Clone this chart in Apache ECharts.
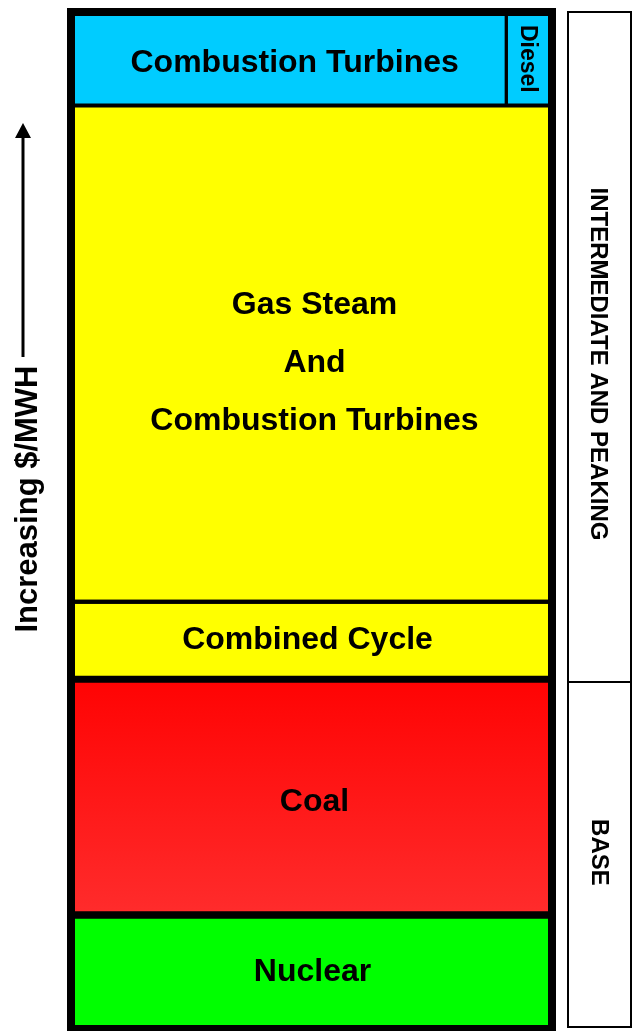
<!DOCTYPE html>
<html>
<head>
<meta charset="utf-8">
<script src="https://cdn.jsdelivr.net/npm/echarts@6/dist/echarts.min.js"></script>
<style>
  html, body { margin: 0; padding: 0; background: #fff; }
  #chart { width: 634px; height: 1031px; }
</style>
</head>
<body>
<div id="chart"></div>
<script>
// generation stack, bottom to top (share of the column height, %)
const tiers = ['Nuclear', 'Coal', 'Combined Cycle', 'Gas Steam\nAnd\nCombustion Turbines', 'Combustion Turbines']
const tierHeight = [11.2, 23.2, 7.6, 48.8, 9.2]
// the top tier is split side by side
const topSplit = ['Combustion Turbines', 'Diesel']
const topSplitWidth = [0.905, 0.095]
// load zones on the right
const zones = ['BASE', 'INTERMEDIATE AND PEAKING']
const zoneHeight = [34, 66]
const axisTitle = 'Increasing $/MWH'

const FONT = '"Liberation Sans", Arial, sans-serif'

// styles per drawn box (index into rows)
const boxStyle = [
    {fill: '#00ff00', border: 7, dx: 1, dy: 0},
    {fill: new echarts.graphic.LinearGradient(0, 0, 0, 1, [
        {offset: 0, color: '#ff0303'}, {offset: 1, color: '#ff2c2c'}]), border: 7, dx: 3, dy: 5},
    {fill: '#ffff00', border: 4, dx: -4, dy: 0},
    {fill: '#ffff00', border: 4, dx: 3, dy: 9, lineHeight: 58},
    {fill: '#00ccff', border: 3, dx: 6, dy: 4},
    {fill: '#00ccff', border: 3, dx: -2, dy: 0, size: 23, rot: -Math.PI / 2}
]

// build rows [x0, x1, y0, y1]
let rows = []
let acc = 0
tiers.forEach((name, i) => {
    let y0 = acc
    acc += tierHeight[i]
    if (i < tiers.length - 1) {
        rows.push({name: name, value: [0, 1, y0, acc]})
    } else {
        let x = 0
        topSplit.forEach((n, j) => {
            rows.push({name: n, value: [x, x + topSplitWidth[j], y0, acc]})
            x += topSplitWidth[j]
        })
    }
})

let zoneRows = []
acc = 0
zones.forEach((name, i) => {
    zoneRows.push({name: name, value: [0, 1, acc, acc + zoneHeight[i]]})
    acc += zoneHeight[i]
})
const zoneStyle = [
    {dx: -1, dy: -2},
    {dx: -2, dy: 17}
]

function renderMain(params, api) {
    let a = api.coord([api.value(0), api.value(2)])
    let b = api.coord([api.value(1), api.value(3)])
    let rect = {x: a[0], y: b[1], width: b[0] - a[0], height: a[1] - b[1]}
    let st = boxStyle[params.dataIndex]
    let children = [
        {type: 'rect', shape: rect, style: {fill: st.fill}, z2: 0},
        {type: 'rect', shape: rect, style: {fill: 'none', stroke: '#000', lineWidth: st.border}, z2: 10},
        {
            type: 'text', z2: 30,
            x: rect.x + rect.width / 2 + st.dx, y: rect.y + rect.height / 2 + st.dy,
            rotation: st.rot || 0,
            style: {
                text: rows[params.dataIndex].name, fill: '#000', align: 'center', verticalAlign: 'middle',
                font: 'bold ' + (st.size || 32) + 'px ' + FONT, lineHeight: st.lineHeight || 36
            }
        }
    ]
    if (params.dataIndex === 0) {
        let cs = params.coordSys
        children.push({type: 'rect', z2: 20,
            shape: {x: cs.x, y: cs.y, width: cs.width, height: cs.height},
            style: {fill: 'none', stroke: '#000', lineWidth: 8}})
    }
    return {type: 'group', children: children}
}

function renderZones(params, api) {
    let a = api.coord([api.value(0), api.value(2)])
    let b = api.coord([api.value(1), api.value(3)])
    let rect = {x: a[0], y: b[1], width: b[0] - a[0], height: a[1] - b[1]}
    let st = zoneStyle[params.dataIndex]
    return {type: 'group', children: [
        {type: 'rect', shape: rect, style: {fill: '#fff', stroke: '#000', lineWidth: 2}},
        {
            type: 'text', z2: 30,
            x: rect.x + rect.width / 2 + st.dx, y: rect.y + rect.height / 2 + st.dy,
            rotation: -Math.PI / 2,
            style: {
                text: zoneRows[params.dataIndex].name, fill: '#000', align: 'center', verticalAlign: 'middle',
                font: 'bold 24px ' + FONT
            }
        }
    ]}
}

let chart = echarts.init(document.getElementById('chart'))
chart.setOption({
    animation: false,
    backgroundColor: '#fff',
    grid: [
        {left: 71, top: 12, width: 481, height: 1017},
        {left: 568, top: 12, width: 63, height: 1015}
    ],
    xAxis: [
        {type: 'value', gridIndex: 0, min: 0, max: 1, show: false},
        {type: 'value', gridIndex: 1, min: 0, max: 1, show: false}
    ],
    yAxis: [
        {type: 'value', gridIndex: 0, min: 0, max: 100, show: false},
        {type: 'value', gridIndex: 1, min: 0, max: 100, show: false}
    ],
    graphic: [
        {type: 'text', x: 28, y: 499, rotation: Math.PI / 2,
            style: {text: axisTitle, fill: '#000', align: 'center', verticalAlign: 'middle',
                font: 'bold 31px ' + FONT}},
        {type: 'line', shape: {x1: 23, y1: 357, x2: 23, y2: 136}, style: {stroke: '#000', lineWidth: 3}},
        {type: 'polygon', shape: {points: [[15, 138], [31, 138], [23, 123]]}, style: {fill: '#000'}}
    ],
    series: [
        {
            type: 'custom', xAxisIndex: 0, yAxisIndex: 0,
            renderItem: renderMain,
            data: rows
        },
        {
            type: 'custom', xAxisIndex: 1, yAxisIndex: 1,
            renderItem: renderZones,
            data: zoneRows
        }
    ]
})
</script>
</body>
</html>
